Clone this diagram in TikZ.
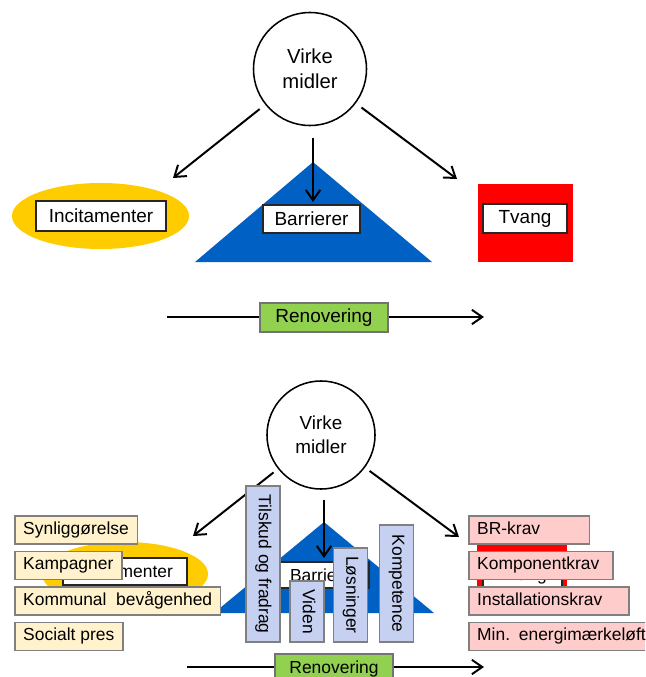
\documentclass[tikz,border=0pt]{standalone}
\usepackage{fontspec}
\setmainfont{Liberation Sans}
\usetikzlibrary{arrows.meta, positioning, shapes.geometric}
\definecolor{incyellow}{HTML}{FFCC00}
\definecolor{barblue}{HTML}{0060C4}
\definecolor{tvred}{HTML}{FF0000}
\definecolor{rengreen}{HTML}{92D050}
\definecolor{lyellow}{HTML}{FFF2CC}
\definecolor{lblue}{HTML}{C6D0F0}
\definecolor{lpink}{HTML}{FFCCCC}

\begin{document}
\begin{tikzpicture}[x=0.025cm, y=-0.025cm,arrow/.style={-{Straight Barb[length=2.6mm, width=3.6mm]}, line width=1.4pt},midler/.style={circle, draw, line width=1.1pt, fill=white, align=center, inner sep=0pt},wbox/.style={rectangle, draw=black!85, fill=white, line width=0.8pt, inner sep=1pt},renbox/.style={rectangle, draw=black!55, fill=rengreen, line width=0.9pt, inner sep=1pt},lbox/.style={rectangle, draw=black!50, line width=1.1pt, inner xsep=6pt, inner ysep=1pt, minimum height=0.7cm, text height=9pt, text depth=3pt, lowfont},ybox/.style={lbox, fill=lyellow},pbox/.style={lbox, fill=lpink, text width=#1, align=left},vbox/.style={lbox, fill=lblue, rotate=-90, anchor=east, minimum width=#1, minimum height=0.85cm},topfont/.style={font=\fontsize{13.5pt}{17.8pt}\selectfont},lowfont/.style={font=\fontsize{12.4pt}{17pt}\selectfont}]
\clip (0,0) rectangle (645,677);
\node[midler, minimum size=2.825cm, font=\fontsize{14.4pt}{17.8pt}\selectfont] (vm) at (310,69) {Virke\\midler};
\node[ellipse, fill=incyellow, minimum width=4.425cm, minimum height=1.65cm] (incE) at (100.5,216) {};
\node[wbox, topfont, minimum width=3.25cm, minimum height=0.75cm] (inc) at (101,216) {Incitamenter};
\fill[barblue] (195,262) -- (313,162) -- (432,262) -- cycle;
\node[wbox, topfont, minimum width=2.425cm, minimum height=0.7cm] (bar) at (311.5,219) {Barrierer};
\node[fill=tvred, minimum width=2.375cm, minimum height=1.95cm] (tvR) at (525.5,223) {};
\node[wbox, topfont, minimum width=2.1cm, minimum height=0.725cm] (tv) at (525,218.5) {Tvang};
\coordinate (tipL) at (173,178);
\coordinate (tipM) at (313,202);
\coordinate (tipR) at (457,179);
\draw[arrow, shorten <=5pt] (vm) -- (tipL);
\draw[arrow, shorten <=8pt] (tipM |- vm.south) -- (tipM);
\draw[arrow, shorten <=5pt] (vm) -- (tipR);
\coordinate (renS) at (167,317);
\coordinate (renE) at (484,317);
\draw[arrow] (renS) -- (renE);
\node[renbox, topfont, minimum width=3.2cm, minimum height=0.725cm] (ren) at (324,317.5) {Renovering};

\node[midler, minimum size=2.7cm, font=\fontsize{13.4pt}{17pt}\selectfont] (vm2) at (321,435) {Virke\\midler};
\node[ellipse, fill=incyellow, minimum width=4.15cm, minimum height=1.6cm] (incE2) at (125,574) {};
\node[wbox, lowfont, minimum width=3.1cm, minimum height=0.675cm] (inc2) at (125,571.5) {Incitamenter};
\fill[barblue] (214,613) -- (324,522) -- (434,613) -- cycle;
\node[wbox, lowfont, minimum width=2.25cm, minimum height=0.65cm] (bar2) at (324,575) {Barrierer};
\node[fill=tvred, minimum width=2.25cm, minimum height=1.75cm] (tvR2) at (522,578) {};
\node[wbox, lowfont, minimum width=1.975cm, minimum height=0.675cm] (tv2) at (522.5,576) {Tvang};
\coordinate (tipL2) at (193,536);
\coordinate (tipM2) at (324,558);
\coordinate (tipR2) at (459,537);
\draw[arrow, shorten <=4pt] (vm2) -- (tipL2);
\draw[arrow, shorten <=7pt] (tipM2 |- vm2.south) -- (tipM2);
\draw[arrow, shorten <=4pt] (vm2) -- (tipR2);
\node[ybox, anchor=north west] (syn) at (14,515) {Synliggørelse};
\node[ybox, below=0.15cm of syn.south west, anchor=north west] (kamp) {Kampagner};
\node[ybox, below=0.15cm of kamp.south west, anchor=north west] (kom) {Kommunal~ bevågenhed};
\node[ybox, below=0.15cm of kom.south west, anchor=north west] (soc) {Socialt pres};
\node[vbox=3.9cm] (tils) at (263,643) {Tilskud og fradrag};
\node[vbox=1.5cm] (vid) at (307,643) {Viden};
\node[vbox=2.35cm] (los) at (350.5,643) {Løsninger};
\node[vbox=2.925cm] (komp) at (396.5,643) {Kompetence};
\node[pbox=2.6cm, anchor=north west] (br) at (468,515) {BR-krav};
\node[pbox=3.18cm, below=0.15cm of br.south west, anchor=north west] (kompk) {Komponentkrav};
\node[pbox=3.58cm, below=0.15cm of kompk.south west, anchor=north west] (inst) {Installationskrav};
\node[pbox=4.3cm, below=0.15cm of inst.south west, anchor=north west] (minl) {Min. energimærkeløft};
\coordinate (renS2) at (187,667);
\coordinate (renE2) at (484,667);
\draw[arrow] (renS2) -- (renE2);
\node[renbox, lowfont, minimum width=2.95cm, minimum height=0.725cm] (ren2) at (334,668.5) {Renovering};
\end{tikzpicture}
\end{document}
